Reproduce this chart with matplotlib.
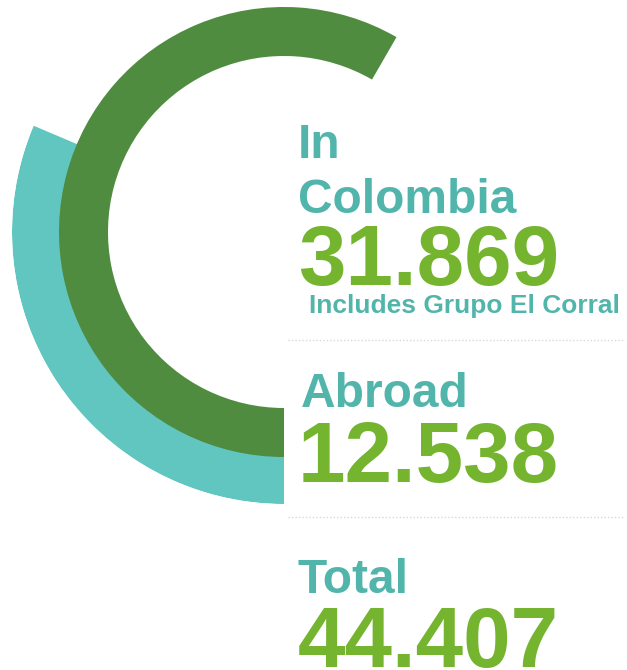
import numpy as np
import matplotlib
matplotlib.use("Agg")
import matplotlib.pyplot as plt

plt.rcParams['font.family'] = ['Liberation Sans', 'DejaVu Sans']

# data
labels = ["In Colombia", "Abroad", "Total"]
values = [31869, 12538, 44407]
note = "Includes Grupo El Corral"
# arcs drawn clockwise from the bottom of the ring (degrees swept)
arc_names = ["In Colombia", "Abroad"]
arc_sweep = [210, 113]

LABEL_COL = '#52B5AC'
NUM_COL = '#74B42F'
ARC_COLS = {"In Colombia": '#4F8C3F', "Abroad": '#60C6BF'}

W, H = 627, 670
fig = plt.figure(figsize=(W / 100, H / 100), dpi=100)

# ring: centre (284, 232) px, outer radius 272 px
cx, cy, R = 284, 232, 272
pax = fig.add_axes([(cx - R) / W, (H - cy - R) / H, 2 * R / W, 2 * R / H],
                   projection='polar')
pax.set_theta_zero_location('S')
pax.set_theta_direction(-1)
pax.set_ylim(0, R)
pax.axis('off')

ring = {"In Colombia": (176, 49), "Abroad": (224, 48)}
for name in ["Abroad", "In Colombia"]:
    sweep = np.deg2rad(arc_sweep[arc_names.index(name)])
    inner, thick = ring[name]
    pax.bar(sweep / 2, thick, width=sweep, bottom=inner,
            color=ARC_COLS[name], edgecolor='none', align='center')

# text panel in pixel coordinates
ax = fig.add_axes([0, 0, 1, 1])
ax.set_xlim(0, W)
ax.set_ylim(H, 0)
ax.axis('off')

label_base = [[158, 213], [407], [593]]
num_base = [285, 482, 667]
x0 = 298
for i, lab in enumerate(labels):
    lines = lab.split(" ") if i == 0 else [lab]
    for ln, yb in zip(lines, label_base[i]):
        ax.text(x0 + (3 if lab == "Abroad" else 0), yb, ln, color=LABEL_COL,
                fontsize=34.5, fontweight='bold', ha='left', va='baseline')
    num = f"{values[i]:,}".replace(",", ".")
    ax.text(x0, num_base[i], num, color=NUM_COL, fontsize=61.5,
            fontweight='bold', ha='left', va='baseline')

ax.text(309, 313, note, color=LABEL_COL, fontsize=19, fontweight='bold',
        ha='left', va='baseline')

for yl in [340, 517]:
    ax.plot([288, 625], [yl, yl], color='#D8D8D8', lw=1, ls=(0, (1, 1.5)))

fig.savefig('out.png', dpi=100)
